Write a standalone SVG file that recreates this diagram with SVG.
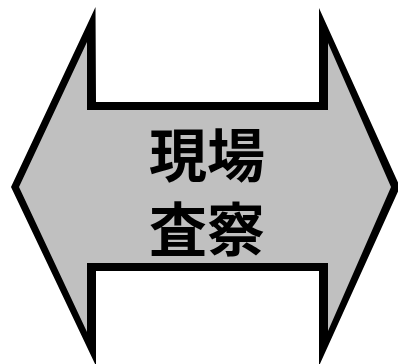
<svg xmlns="http://www.w3.org/2000/svg" width="398" height="364" viewBox="0 0 398 364">
<style>
.outline{fill:#000000;}
.body{fill:#C0C0C0;}
.label{font-family:"Noto Sans CJK JP","Noto Sans CJK SC",sans-serif;font-weight:bold;font-size:58px;fill:#000000;text-anchor:middle;}
</style>
<rect width="398" height="364" fill="#FFFFFF"/>
<g id="arrow">
<polygon class="outline" points="95.5,7 96,102 319,102 319,8 400,187 319,366 319,271 96,271 96,366 11,187"/>
<polygon class="body" points="87,42 87,110 328,110 328,43 391,187 328,331 328,263 87,263 87,332 19,187"/>
<text class="label" x="207" y="177">現場</text>
<text class="label" x="207" y="251">査察</text>
</g>
</svg>
